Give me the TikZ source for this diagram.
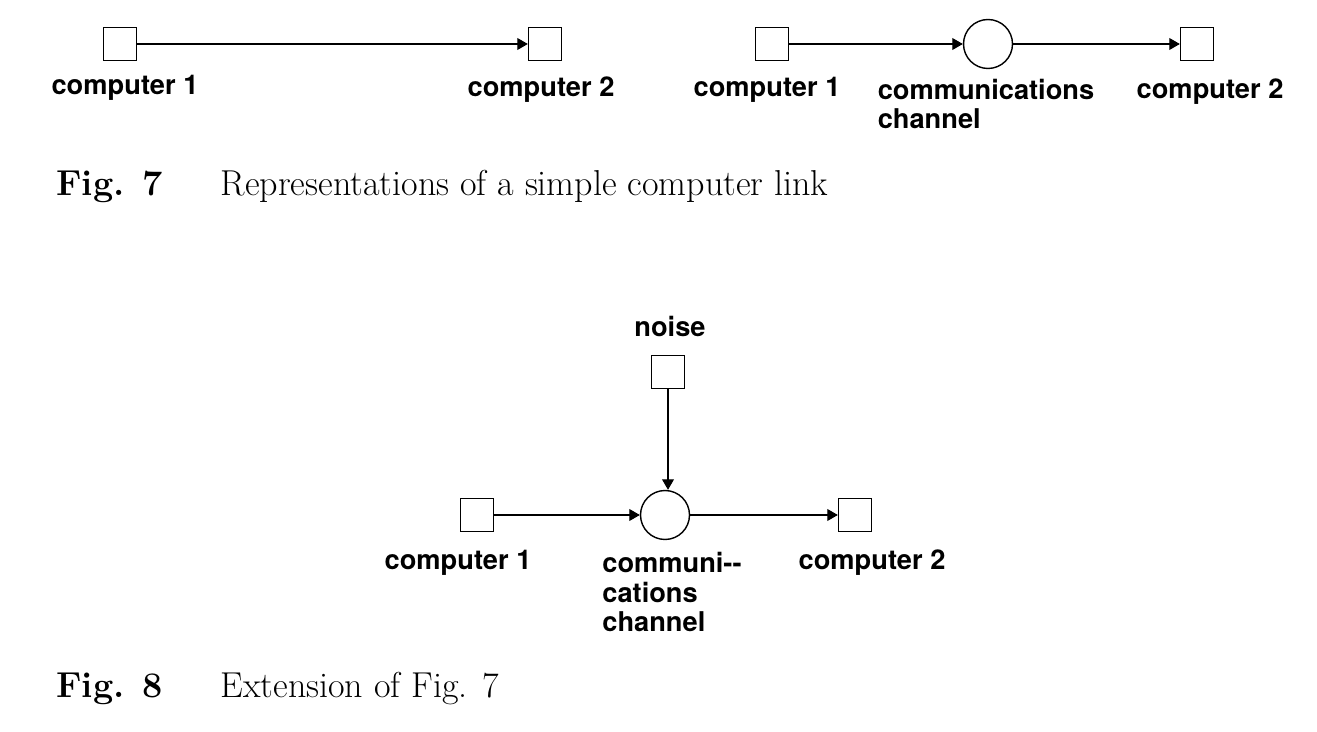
\documentclass[tikz,border=0pt]{standalone}
\usepackage{fontspec}
\newfontfamily\labelfont{TeX Gyre Heros}
\usetikzlibrary{arrows}
\begin{document}
\begin{tikzpicture}[x=0.02cm, y=-0.02cm, >=triangle 60, semithick,
  box/.style={draw, thick, minimum size=0.66cm, inner sep=0pt},
  chan/.style={draw, thick, circle, minimum size=0.98cm, inner sep=0pt},
  lbl/.style={font=\labelfont\bfseries\fontsize{15.5}{17}\selectfont, align=center},
  figcap/.style={font=\fontsize{20.5}{22}\selectfont, anchor=west}]
\useasboundingbox (0,0) rectangle (1317,732);
% Fig. 7, left
\node [box] (ca) at (120,44) {};
\node [box] (cb) at (545,44) {};
\draw [->] (ca) -- (cb);
\node [lbl] (la) at (125,88) {computer 1};
\node [lbl] (lb) at (541,90) {computer 2};
% Fig. 7, right
\node [box] (cc) at (772,44) {};
\node [chan] (ch) at (988,44) {};
\node [box] (cd) at (1197,44) {};
\draw [->] (cc) -- (ch);
\draw [->] (ch) -- (cd);
\node [lbl] (lc) at (767,90) {computer 1};
\node [lbl, align=left] (lh) at (986,104) {communications\\channel};
\node [lbl] (ld) at (1210,92) {computer 2};
\node [figcap] (f7) at (50,186) {\textbf{Fig. 7}\hspace{1.6em}Representations of a simple computer link};
% Fig. 8
\node [lbl] (ln) at (670,326) {noise};
\node [box] (no) at (668,372) {};
\node [chan] (cx) at (665,515) {};
\node [box] (ce) at (477,515) {};
\node [box] (cf) at (855,515) {};
\draw [->] (no) -- (no |- cx.north);
\draw [->] (ce) -- (cx);
\draw [->] (cx) -- (cf);
\node [lbl] (le) at (458,563) {computer 1};
\node [lbl, align=left] (lx) at (672,592) {communi--\\cations\\channel};
\node [lbl] (lf) at (872,563) {computer 2};
\node [figcap] (f8) at (50,689) {\textbf{Fig. 8}\hspace{1.6em}Extension of Fig. 7};
\end{tikzpicture}
\end{document}
